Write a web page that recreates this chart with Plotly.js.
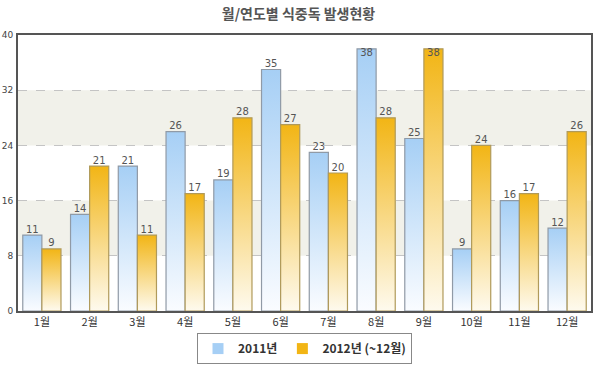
<!DOCTYPE html>
<html><head><meta charset="utf-8">
<script src="https://cdn.plot.ly/plotly-3.0.1.min.js"></script>
<style>body{margin:0;background:#fff}#chart{width:597px;height:385px}</style>
</head><body><div id="chart"></div>
<script>
const months = ['1월','2월','3월','4월','5월','6월','7월','8월','9월','10월','11월','12월'];
const series2011 = [11,14,21,26,19,35,23,38,25,9,16,12];
const series2012 = [9,21,11,17,28,27,20,28,38,24,17,26];
const seriesNames = ['2011년','2012년 (~12월)'];
const yTicks = [0,8,16,24,32,40];

const seriesList = [series2011, series2012];
const topColors = ['#a6cff5','#f2b515'];
const bottomColors = ['#fafcff','#fefaee'];
const lineColors = ['#909aa6','#b09a5a'];
const barW = 0.4;
const traces = [];
seriesList.forEach((vals, s) => {
  vals.forEach((v, i) => {
    const x0 = i - barW + s*barW, x1 = x0 + barW;
    traces.push({
      type:'scatter', mode:'lines', x:[x0,x0,x1,x1,x0], y:[0,v,v,0,0],
      fill:'toself', fillgradient:{type:'vertical', start:0, stop:v,
        colorscale:[[0,bottomColors[s]],[1,topColors[s]]]},
      line:{color:lineColors[s], width:1.2}, showlegend:false, hoverinfo:'skip'
    });
  });
  traces.push({
    type:'scatter', mode:'text', x:vals.map((v,i)=>i - barW/2 + s*barW), y:vals,
    text:vals.map(String), textposition:vals.map(v=> v>36 ? 'bottom center':'top center'),
    textfont:{family:'DejaVu Sans', size:10, color:'#555'}, showlegend:false, hoverinfo:'skip'
  });
  traces.push({
    type:'scatter', mode:'markers', x:[null], y:[null], name:seriesNames[s],
    marker:{symbol:'square', size:11, color:topColors[s]}
  });
});

const bands = [[8,16],[24,32]].map(b=>({type:'rect', xref:'paper', x0:0, x1:1, yref:'y', y0:b[0], y1:b[1],
  fillcolor:'#f1f1ea', line:{width:0}, layer:'below'}));

const layout = {
  width:597, height:385,
  margin:{l:18, r:6, t:35, b:74},
  paper_bgcolor:'#fff', plot_bgcolor:'#fff',
  title:{text:'월/연도별 식중독 발생현황', x:0.5, xanchor:'center', y:0.963, yanchor:'middle',
    font:{family:'Noto Sans CJK KR', size:14, color:'#555', weight:'bold'}},
  xaxis:{range:[-0.5,11.5], tickvals:months.map((m,i)=>i), ticktext:months,
    showgrid:false, zeroline:false, showline:true, mirror:true, linecolor:'#555', linewidth:2,
    ticks:'', tickfont:{family:'Noto Sans CJK KR', size:11, color:'#333'}, fixedrange:true},
  yaxis:{range:[0,40], tickvals:yTicks, showgrid:true, gridcolor:'#c4c4c4', griddash:'dash',
    zeroline:false, showline:true, mirror:true, linecolor:'#555', linewidth:2, ticks:'',
    tickfont:{family:'DejaVu Sans', size:9, color:'#444'}, ticklabelstandoff:1},
  shapes:bands,
  showlegend:true,
  legend:{orientation:'h', x:0.5, xanchor:'center', y:-0.08, yanchor:'top',
    bordercolor:'#888', borderwidth:1, bgcolor:'#fff',
    font:{family:'Noto Sans CJK KR', size:12, color:'#333', weight:'bold'}, itemwidth:20}
};
Plotly.newPlot('chart', traces, layout, {displayModeBar:false, staticPlot:true});
</script></body></html>
